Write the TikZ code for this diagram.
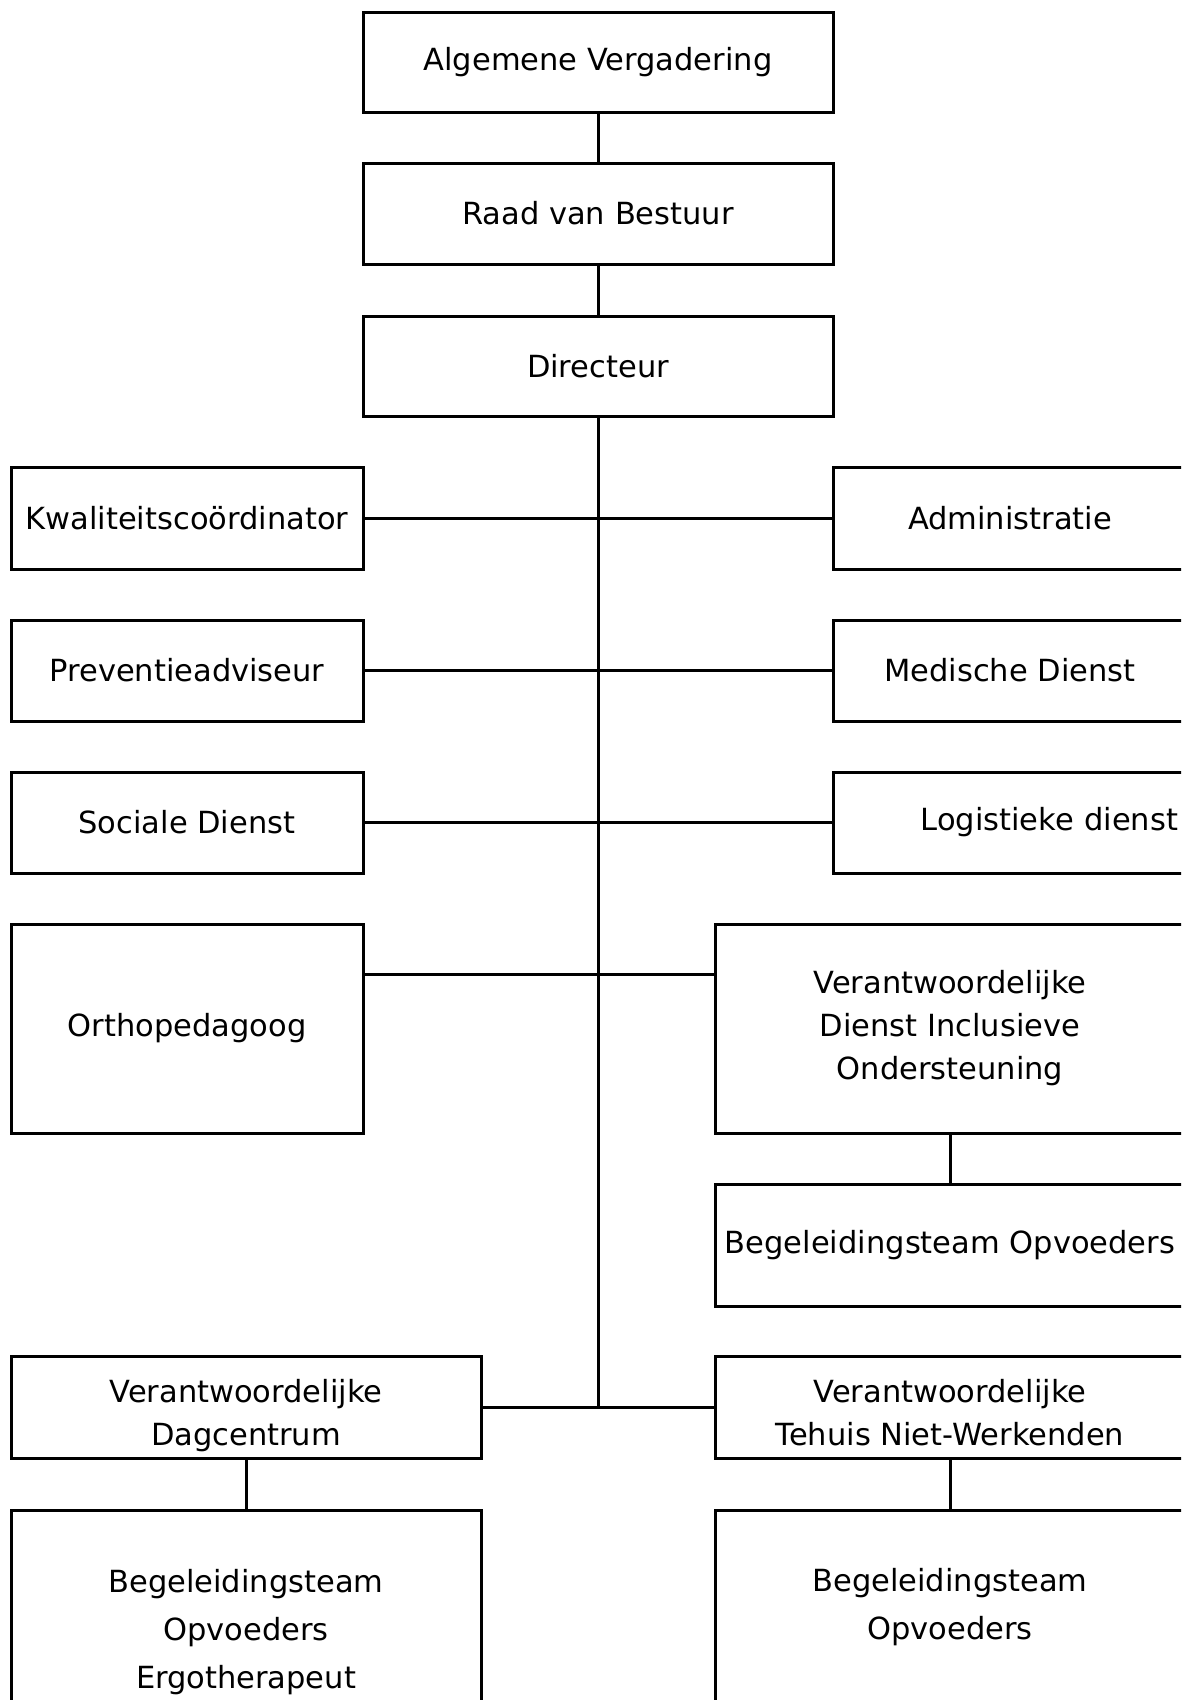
\documentclass[tikz,border=0pt]{standalone}
\usepackage{fontspec}
\setmainfont{DejaVu Sans}
\begin{document}
\begin{tikzpicture}[x=1pt,y=-1pt,
  box/.style={draw=black,line width=3pt,rectangle,inner sep=0pt,align=center,
    font=\fontsize{30.5}{43}\selectfont,text=black},
  conn/.style={draw=black,line width=3pt}]
\path[use as bounding box,clip] (0,0) rectangle (1181,1700);
\fill[white] (0,0) rectangle (1181,1700);
% top chain
\node[box,minimum width=470pt,minimum height=100pt] (av) at (598,62) {Algemene Vergadering};
\node[box,minimum width=470pt,minimum height=101pt] (rvb) at (598,213.5) {Raad van Bestuur};
\node[box,minimum width=470pt,minimum height=100pt] (dir) at (598,366) {Directeur};
% left column
\node[box,minimum width=352pt,minimum height=102pt] (kwal) at (187,518) {Kwaliteitscoördinator};
\node[box,minimum width=352pt,minimum height=101pt] (prev) at (187,670.5) {Preventieadviseur};
\node[box,minimum width=352pt,minimum height=101pt] (soc) at (187,822.5) {Sociale Dienst};
\node[box,minimum width=352pt,minimum height=209pt] (ortho) at (187,1028.5) {Orthopedagoog};
% right column
\node[box,minimum width=354pt,minimum height=102pt] (adm) at (1010,518) {Administratie};
\node[box,minimum width=354pt,minimum height=101pt] (med) at (1010,670.5) {Medische Dienst};
\node[box,minimum width=354pt,minimum height=101pt,text width=336pt,inner xsep=9pt,align=right] (log) at (1010,822.5) {Logistieke dienst};
\node[box,minimum width=470pt,minimum height=209pt] (vdio) at (950,1028.5) {Verantwoordelijke\\Dienst Inclusieve\\Ondersteuning};
\node[box,minimum width=470pt,minimum height=122pt] (bto) at (950,1245) {Begeleidingsteam Opvoeders};
% bottom
\node[box,minimum width=470pt,minimum height=102pt] (vd) at (246,1407) {\rule{0pt}{40pt}Verantwoordelijke\\Dagcentrum};
\node[box,minimum width=470pt,minimum height=102pt] (vtnw) at (950,1407) {\rule{0pt}{34pt}Verantwoordelijke\\Tehuis Niet-Werkenden};
\node[box,minimum width=470pt,minimum height=244pt,font=\fontsize{30.5}{48}\selectfont] (btl) at (246,1632) {Begeleidingsteam\\Opvoeders\\Ergotherapeut};
\node[box,minimum width=470pt,minimum height=194pt,font=\fontsize{30.5}{48}\selectfont] (btr) at (950,1607) {Begeleidingsteam\\Opvoeders};
% connectors
\coordinate (jo) at (598,974);
\coordinate (jb) at (598,1407);
\draw[conn] (av.south) -- (rvb.north);
\draw[conn] (rvb.south) -- (dir.north);
\draw[conn] (dir.south) -- (jb);
\draw[conn] (kwal.east) -- (adm.west);
\draw[conn] (prev.east) -- (med.west);
\draw[conn] (soc.east) -- (log.west);
\draw[conn] (jo -| ortho.east) -- (jo -| vdio.west);
\draw[conn] (vdio.south) -- (bto.north);
\draw[conn] (vd.east) -- (vtnw.west);
\draw[conn] (vd.south) -- (btl.north);
\draw[conn] (vtnw.south) -- (btr.north);
\end{tikzpicture}
\end{document}
